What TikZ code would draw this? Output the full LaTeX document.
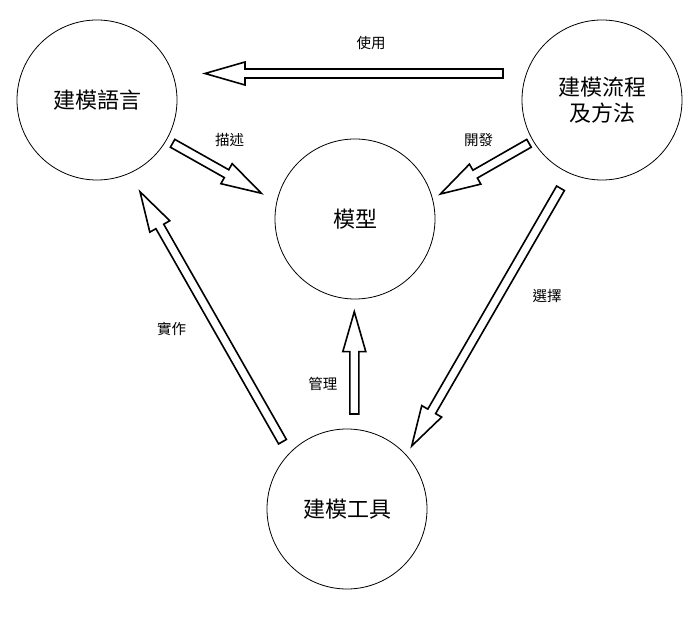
\documentclass[tikz,border=0pt]{standalone}
\usepackage{fontspec}
\setmainfont{Noto Sans CJK TC}
\usetikzlibrary{calc}
\tikzset{
  circ/.style={circle, draw, line width=0.8pt, minimum size=160pt, inner sep=0pt,
    font=\fontsize{22}{26}\selectfont, align=center},
  lbl/.style={font=\fontsize{14.5}{16}\selectfont, inner sep=0pt},
  barrowline/.style={draw, line width=1.6pt, fill=white, line join=miter},
}
\newcommand\blockarrow[2]{%
  \coordinate (hb) at ($(#2)!40pt!(#1)$);
  \draw[barrowline]
    ($(#1)!4.5pt!-90:(#2)$) -- ($(hb)!4.5pt!-90:(#2)$) -- ($(hb)!11.5pt!-90:(#2)$)
    -- (#2)
    -- ($(hb)!11.5pt!90:(#2)$) -- ($(hb)!4.5pt!90:(#2)$) -- ($(#1)!4.5pt!90:(#2)$) -- cycle;
}
\begin{document}
\begin{tikzpicture}[x=1pt,y=-1pt]
  \useasboundingbox (0,0) rectangle (699,617);
  % nodes
  \node[circ] (lang) at (97,100) {建模語言};
  \node[circ] (proc) at (602,100) {建模流程\\及方法};
  \node[circ] (model) at (355,219) {模型};
  \node[circ] (tool) at (347,509) {建模工具};
  % arrow end points
  \coordinate (useT) at (503,73.5);  \coordinate (useP) at (205,73.5);
  \coordinate (descT) at (172.6,143.3); \coordinate (descP) at (261.4,193.3);
  \coordinate (devT) at (529,143.3); \coordinate (devP) at (440.4,194);
  \coordinate (selT) at (560.5,188.3); \coordinate (selP) at (411.7,446);
  \coordinate (implT) at (282.5,441.7); \coordinate (implP) at (140,191.7);
  \coordinate (mgmtT) at (354.3,414); \coordinate (mgmtP) at (354.3,311.7);
  % arrows
  \blockarrow{useT}{useP}
  \blockarrow{descT}{descP}
  \blockarrow{devT}{devP}
  \blockarrow{selT}{selP}
  \blockarrow{implT}{implP}
  \blockarrow{mgmtT}{mgmtP}
  % labels
  \node[lbl] (l1) at (371,43) {使用};
  \node[lbl] (l2) at (229.6,140) {描述};
  \node[lbl] (l3) at (478.5,140) {開發};
  \node[lbl] (l4) at (547,296) {選擇};
  \node[lbl] (l5) at (171.7,329) {實作};
  \node[lbl] (l6) at (322.9,384.3) {管理};
\end{tikzpicture}
\end{document}
